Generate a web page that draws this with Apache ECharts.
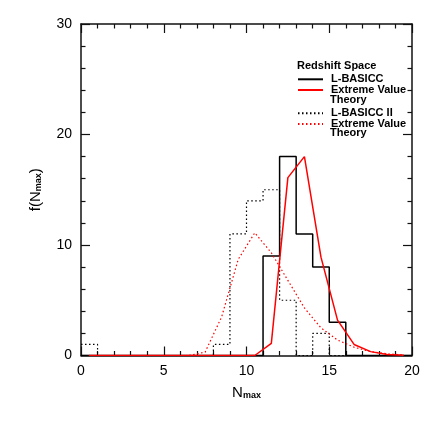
<!DOCTYPE html>
<html>
<head>
<meta charset="utf-8">
<script src="https://cdn.jsdelivr.net/npm/echarts@6/dist/echarts.min.js"></script>
<style>
  html, body { margin: 0; padding: 0; background: #fff; }
  #chart { width: 436px; height: 436px; }
</style>
</head>
<body>
<div id="chart"></div>
<script>
// histogram bins are [i, i+1] for i = 0..19
const binCount = 20
const lbasicc = [0, 0, 0, 0, 0, 0, 0, 0, 0, 0, 0, 9, 18, 11, 8, 3, 0, 0, 0, 0]
const lbasicc2 = [1, 0, 0, 0, 0, 0, 0, 0, 1, 11, 14, 15, 5, 0, 2, 0, 0, 0, 0, 0]
// extreme value theory curves, sampled at bin centres
const evtX = [0.5, 1.5, 2.5, 3.5, 4.5, 5.5, 6.5, 7.5, 8.5, 9.5, 10.5, 11.5, 12.5, 13.5, 14.5, 15.5, 16.5, 17.5, 18.5, 19.5]
const evt = [0, 0, 0, 0, 0, 0, 0, 0, 0, 0, 0, 1.1, 16.1, 18, 8.9, 3.2, 1.0, 0.35, 0.1, 0.02]
const evt2 = [0, 0, 0, 0, 0, 0, 0, 0.3, 3.5, 8.7, 11.1, 9.3, 6.8, 4.3, 2.5, 1.4, 0.75, 0.35, 0.15, 0.05]
const xTicks = [0, 5, 10, 15, 20]
const yTicks = [0, 10, 20, 30]

const font = 'Liberation Sans'

function stepData (vals) {
  const out = vals.map((v, i) => [i, v])
  out.push([binCount, vals[vals.length - 1]])
  return out
}
function curveData (vals) {
  return vals.map((v, i) => [evtX[i], v])
}

const chart = echarts.init(document.getElementById('chart'), null, { renderer: 'canvas' })

const axisCommon = {
  type: 'value',
  axisLine: { show: true, onZero: false, lineStyle: { color: '#111', width: 1.5 } },
  axisTick: { show: true, inside: true, length: 9, lineStyle: { color: '#111', width: 1.2 } },
  minorTick: { show: true, splitNumber: 5, length: 4.5, lineStyle: { color: '#111', width: 1.2 } },
  splitLine: { show: false }
}

const legendCommon = {
  orient: 'vertical',
  left: 297,
  itemWidth: 25,
  itemHeight: 10,
  itemGap: 2,
  padding: 0,
  selectedMode: false,
  itemStyle: { opacity: 0 },
  textStyle: { fontFamily: font, fontSize: 11, fontWeight: 'bold', color: '#000', padding: [0, 0, 3, 3] }
}

const nameRich = {
  a: { fontFamily: font, fontSize: 15, color: '#000', lineHeight: 15, verticalAlign: 'top' },
  b: { fontFamily: font, fontSize: 9, fontWeight: 'bold', color: '#000', lineHeight: 4, verticalAlign: 'bottom' }
}

const option = {
  animation: false,
  backgroundColor: '#fff',
  grid: { left: 81, right: 24, top: 24, bottom: 80.5, containLabel: false },
  title: {
    text: 'Redshift Space',
    left: 297,
    top: 60,
    padding: 0,
    textStyle: { fontFamily: font, fontSize: 11, fontWeight: 'bold', color: '#000' }
  },
  legend: [
    Object.assign({}, legendCommon, { top: 73.8, data: ['L-BASICC'] }),
    Object.assign({}, legendCommon, { top: 84.5, data: ['Extreme Value'] }),
    Object.assign({}, legendCommon, { top: 107.8, data: ['L-BASICC II'] }),
    Object.assign({}, legendCommon, {
      top: 118.5,
      data: ['Extreme Value '],
      formatter: function (n) { return n.trim() }
    })
  ],
  graphic: [
    { type: 'text', left: 330, top: 94.5, style: { text: 'Theory', font: 'bold 11px ' + font, fill: '#000' } },
    { type: 'text', left: 330, top: 127.8, style: { text: 'Theory', font: 'bold 11px ' + font, fill: '#000' } }
  ],
  xAxis: [
    Object.assign({}, axisCommon, {
      position: 'bottom',
      min: 0,
      max: 20,
      interval: 5,
      name: '{a|N}{b|max}',
      nameLocation: 'middle',
      nameGap: 30,
      nameTextStyle: { rich: nameRich },
      axisLabel: {
        margin: 9,
        fontFamily: font,
        fontSize: 14,
        color: '#000',
        formatter: function (v) { return xTicks.indexOf(v) >= 0 ? String(v) : '' }
      }
    }),
    Object.assign({}, axisCommon, {
      position: 'top',
      min: 0,
      max: 20,
      interval: 5,
      axisLabel: { show: false }
    })
  ],
  yAxis: [
    Object.assign({}, axisCommon, {
      position: 'left',
      min: 0,
      max: 30,
      interval: 10,
      name: '{a|f(N}{b|max}{a|)}',
      nameLocation: 'middle',
      nameGap: 38,
      nameTextStyle: { rich: nameRich },
      axisLabel: {
        margin: 9,
        fontFamily: font,
        fontSize: 14,
        color: '#000',
        formatter: function (v) { return yTicks.indexOf(v) >= 0 ? String(v) : '' }
      }
    }),
    Object.assign({}, axisCommon, {
      position: 'right',
      min: 0,
      max: 30,
      interval: 10,
      axisLabel: { show: false }
    })
  ],
  series: [
    {
      name: 'L-BASICC',
      type: 'line',
      step: 'end',
      symbol: 'none',
      data: stepData(lbasicc),
      lineStyle: { color: '#000', width: 1.5 },
      itemStyle: { color: '#000' }
    },
    {
      name: 'L-BASICC II',
      type: 'line',
      step: 'end',
      symbol: 'none',
      data: stepData(lbasicc2),
      lineStyle: { color: '#000', width: 1.2, type: [1.5, 2.5] },
      itemStyle: { color: '#000' }
    },
    {
      name: 'Extreme Value ',
      type: 'line',
      symbol: 'none',
      data: curveData(evt2),
      lineStyle: { color: '#ff0000', width: 1.2, type: [1.5, 2.5] },
      itemStyle: { color: '#ff0000' }
    },
    {
      name: 'Extreme Value',
      type: 'line',
      symbol: 'none',
      data: curveData(evt),
      lineStyle: { color: '#ff0000', width: 1.5 },
      itemStyle: { color: '#ff0000' }
    }
  ]
}

chart.setOption(option)
</script>
</body>
</html>
